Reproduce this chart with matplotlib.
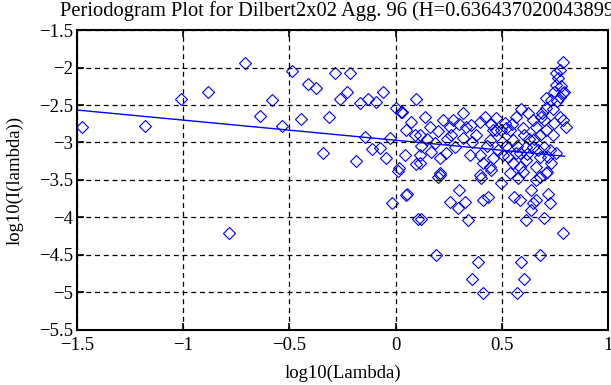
import matplotlib
matplotlib.use("Agg")
import matplotlib.pyplot as plt

# periodogram points (log10 lambda, log10 I(lambda))
log_lambda = [
    -1.478, -1.18, -1.008, -0.882, -0.785, -0.71, -0.639, -0.584, -0.533, -0.486,
    -0.443, -0.412, -0.373, -0.341, -0.313, -0.283, -0.263, -0.229, -0.213, -0.188,
    -0.169, -0.145, -0.130, -0.109, -0.091, -0.075, -0.059, -0.043, -0.028, -0.015,
    0.0, 0.011, 0.016, 0.027, 0.032, 0.043, 0.050, 0.050, 0.054, 0.074,
    0.090, 0.098, 0.098, 0.105, 0.113, 0.113, 0.113, 0.121, 0.137, 0.160,
    0.168, 0.184, 0.189, 0.200, 0.207, 0.207, 0.207, 0.223, 0.239, 0.254,
    0.254, 0.262, 0.278, 0.294, 0.301, 0.317, 0.317, 0.325, 0.333, 0.341,
    0.349, 0.356, 0.361, 0.388, 0.396, 0.396, 0.396, 0.404, 0.411, 0.411,
    0.414, 0.419, 0.435, 0.443, 0.443, 0.450, 0.458, 0.458, 0.474, 0.474,
    0.497, 0.497, 0.505, 0.513, 0.521, 0.537, 0.537, 0.552, 0.552, 0.560,
    0.568, 0.568, 0.573, 0.576, 0.584, 0.584, 0.584, 0.592, 0.607, 0.607,
    0.615, 0.615, 0.615, 0.623, 0.638, 0.638, 0.646, 0.646, 0.646, 0.662,
    0.662, 0.662, 0.678, 0.678, 0.678, 0.678, 0.686, 0.701, 0.701, 0.709,
    0.709, 0.709, 0.709, 0.715, 0.717, 0.725, 0.728, 0.733, 0.733, 0.740,
    0.748, 0.748, 0.756, 0.756, 0.756, 0.764, 0.772, 0.772, 0.772, 0.787,
    0.787, 0.787, 0.787, 0.795, 0.803,
    0.120, 0.150, 0.200, 0.240, 0.270, 0.300, 0.360, 0.380, 0.430, 0.450,
    0.480, 0.500, 0.520, 0.550, 0.570, 0.600, 0.600, 0.620, 0.650, 0.660,
    0.670, 0.700, 0.720, 0.690, 0.740, 0.760, 0.780, 0.630, 0.590, 0.530,
]
log_power = [
    -2.789, -2.78, -2.42, -2.33, -4.203, -1.936, -2.647, -2.433, -2.78, -2.04,
    -2.69, -2.224, -2.269, -3.136, -2.656, -2.078, -2.424, -2.33, -2.069, -3.243,
    -2.469, -2.922, -2.42, -3.09, -2.455, -3.078, -2.33, -3.21, -2.944, -3.802,
    -2.545, -3.376, -3.344, -2.589, -2.589, -3.167, -2.833, -3.70, -3.69, -2.722,
    -2.9, -2.424, -3.287, -4.02, -2.9, -3.167, -3.278, -4.024, -2.656, -2.789,
    -3.122, -3.01, -4.5, -3.456, -3.21, -3.433, -3.41, -2.7, -3.144, -2.789,
    -3.789, -2.9, -3.056, -3.878, -3.633, -2.611, -2.944, -3.789, -2.789, -4.033,
    -3.167, -2.767, -4.82, -4.589, -2.722, -3.167, -3.433, -3.478, -3.278, -3.767,
    -5.002, -2.656, -3.731, -2.967, -3.322, -3.37, -3.21, -2.833, -2.678, -2.833,
    -2.833, -3.544, -3.167, -2.744, -2.811, -2.833, -3.411, -2.967, -3.278, -3.722,
    -2.656, -3.144, -5.002, -3.478, -3.144, -3.322, -3.767, -4.589, -2.9, -4.82,
    -3.056, -3.233, -4.033, -2.611, -3.633, -3.9, -2.7, -3.056, -3.811, -2.789,
    -3.322, -3.767, -2.9, -3.189, -3.456, -4.5, -2.656, -3.056, -4.011, -2.833,
    -2.544, -2.411, -3.411, -3.39, -3.687, -3.1, -3.811, -2.433, -3.278, -2.9,
    -2.322, -2.744, -2.233, -2.078, -3.144, -2.144, -2.389, -2.033, -2.656, -2.344,
    -1.922, -2.7, -4.203, -2.322, -2.789,
    -3.05, -2.95, -2.85, -2.95, -2.70, -2.75, -3.00, -2.90, -3.05, -2.75,
    -3.10, -3.00, -3.05, -2.75, -3.05, -2.80, -3.40, -3.15, -2.95, -3.50,
    -3.10, -2.70, -3.20, -2.60, -2.55, -2.45, -2.25, -2.95, -2.55, -3.20,
]

# least-squares fit line endpoints (slope 1 - 2H)
fit_x = [-1.5, 0.795]
fit_y = [-2.567, -3.183]

x_ticks = [-1.5, -1, -0.5, 0, 0.5, 1]
x_labels = ["\u22121.5", "\u22121", "\u22120.5", "0", "0.5", "1"]
y_ticks = [-5.5, -5, -4.5, -4, -3.5, -3, -2.5, -2, -1.5]
y_labels = ["\u22125.5", "\u22125", "\u22124.5", "\u22124", "\u22123.5", "\u22123",
            "\u22122.5", "\u22122", "\u22121.5"]

plt.rcParams["font.family"] = ["Liberation Serif", "DejaVu Serif"]
plt.rcParams["font.size"] = 13.5

fig = plt.figure(figsize=(6.11, 3.85), dpi=100)
ax = fig.add_axes([0.126, 0.143, 0.869, 0.779])

ax.plot(log_lambda, log_power, "D", ms=6.6, mfc="none", mec="#0000ff", mew=0.8, zorder=1)
ax.plot(fit_x, fit_y, "-", color="#0000ff", lw=1.0, zorder=1)

ax.set_xlim(-1.5, 1)
ax.set_ylim(-5.5, -1.5)
ax.set_xticks(x_ticks, x_labels)
ax.set_yticks(y_ticks, y_labels)
ax.tick_params(axis="x", pad=5)
ax.tick_params(direction="in", top=True, right=True, length=5, width=1.2)
ax.tick_params(axis="y", pad=3)
ax.set_axisbelow(False)
ax.grid(True, color="black", linestyle=(0, (4, 3)), linewidth=0.9, zorder=3)
for sp in ax.spines.values():
    sp.set_linewidth(1.5)
    sp.set_zorder(4)

ax.set_xlabel("log10(Lambda)", labelpad=8)
ax.set_ylabel("log10(I(lambda))", labelpad=11)
fig.text(0.098, 0.996, "Periodogram Plot for Dilbert2x02 Agg. 96 (H=0.636437020043899)",
         ha="left", va="top", fontsize=14.8)

fig.savefig("out.png", dpi=100)
